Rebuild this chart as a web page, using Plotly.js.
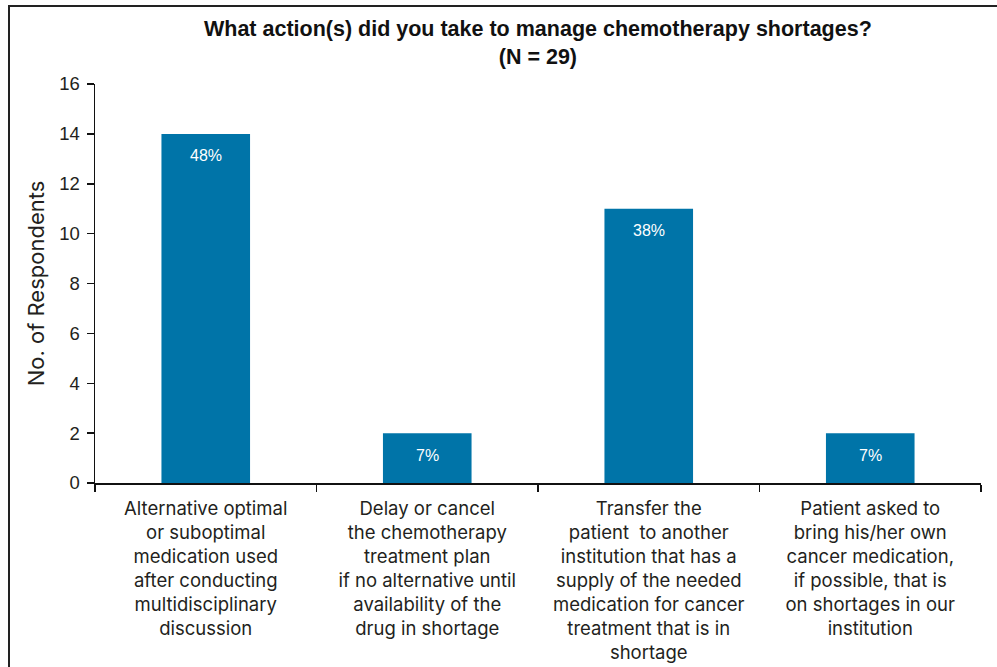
<!DOCTYPE html>
<html>
<head>
<meta charset="utf-8">
<script src="https://cdn.plot.ly/plotly-3.0.1.min.js"></script>
<style>
  body { margin: 0; background: #fff; }
  #wrap { position: relative; width: 997px; height: 667px; }
  #chart { width: 997px; height: 667px; }
  #frame {
    position: absolute; left: 8px; top: 5px; right: -4px; bottom: -4px;
    border-left: 2px solid #222; border-top: 2px solid #222;
    pointer-events: none;
  }
</style>
</head>
<body>
<div id="wrap">
  <div id="chart"></div>
  <div id="frame"></div>
</div>
<script>
  // Data
  const categories = [
    'Alternative optimal<br>or suboptimal<br>medication used<br>after conducting<br>multidisciplinary<br>discussion',
    'Delay or cancel<br>the chemotherapy<br>treatment plan<br>if no alternative until<br>availability of the<br>drug in shortage',
    'Transfer the<br>patient  to another<br>institution that has a<br>supply of the needed<br>medication for cancer<br>treatment that is in<br>shortage',
    'Patient asked to<br>bring his/her own<br>cancer medication,<br>if possible, that is<br>on shortages in our<br>institution'
  ];
  const respondents = [14, 2, 11, 2];
  const percentLabels = ['48%', '7%', '38%', '7%'];
  const yTicks = [0, 2, 4, 6, 8, 10, 12, 14, 16];

  const barColor = '#0074a8';
  const textFont = 'Inter, Liberation Sans, Arial, sans-serif';
  const headFont = 'Liberation Sans, Arial, Helvetica, sans-serif';

  const trace = {
    x: categories,
    y: respondents,
    type: 'bar',
    marker: { color: barColor },
    hoverinfo: 'skip',
    showlegend: false
  };

  const annotations = categories.map((c, i) => ({
    x: c,
    y: respondents[i],
    xref: 'x',
    yref: 'y',
    text: percentLabels[i],
    showarrow: false,
    yshift: -22,
    font: { family: headFont, size: 16, color: '#ffffff' }
  }));

  const layout = {
    width: 997,
    height: 667,
    margin: { t: 84, r: 16, b: 184, l: 95 },
    paper_bgcolor: '#ffffff',
    plot_bgcolor: '#ffffff',
    font: { family: textFont, color: '#231f20' },
    bargap: 0.6,
    title: {
      text: '<b>What action(s) did you take to manage chemotherapy shortages?<br>(N = 29)</b>',
      font: { family: headFont, size: 21.5, color: '#111' },
      x: 0.5395,
      xanchor: 'center',
      y: 0.9455,
      yanchor: 'top'
    },
    xaxis: {
      showline: true,
      linecolor: '#111',
      linewidth: 1.5,
      ticks: 'outside',
      tickson: 'boundaries',
      ticklen: 7,
      tickwidth: 1.5,
      tickcolor: '#111',
      showgrid: false,
      ticklabelstandoff: 8,
      tickfont: { family: textFont, size: 18.5, color: '#231f20' },
      fixedrange: true
    },
    yaxis: {
      range: [0, 16],
      tickvals: yTicks,
      showline: true,
      linecolor: '#111',
      linewidth: 1.5,
      ticks: 'outside',
      ticklen: 7,
      tickwidth: 1.5,
      tickcolor: '#111',
      showgrid: false,
      zeroline: false,
      ticklabelstandoff: 3,
      tickfont: { family: headFont, size: 18.5, color: '#231f20' },
      title: {
        text: 'No. of Respondents',
        font: { family: textFont, size: 22, color: '#231f20' },
        standoff: 8
      },
      fixedrange: true
    },
    annotations: annotations
  };

  Plotly.newPlot('chart', [trace], layout, { displayModeBar: false, staticPlot: true });
</script>
</body>
</html>
